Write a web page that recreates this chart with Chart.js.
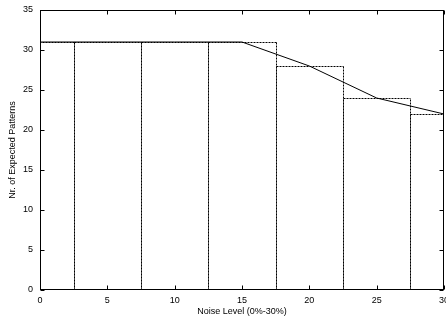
<!DOCTYPE html>
<html>
<head>
<meta charset="utf-8">
<script src="https://cdn.jsdelivr.net/npm/chart.js@4/dist/chart.umd.min.js"></script>
<style>
  html, body { margin: 0; padding: 0; background: #fff; }
  canvas { display: block; }
</style>
</head>
<body>
<canvas id="chart" width="446" height="322"></canvas>
<script>
// noise levels (%) and pattern counts
const noiseLevels = [0, 5, 10, 15, 20, 25, 30];
const boxValues = [31, 31, 31, 31, 28, 24, 22];
const lineValues = [31, 31, 31, 31, 28, 24, 22];
const xTicks = [0, 5, 10, 15, 20, 25, 30];
const yTicks = [0, 5, 10, 15, 20, 25, 30, 35];

const FONT = { family: "'Liberation Sans', Arial, sans-serif", size: 9 };
const INK = '#000';

// gnuplot-style frame: dashed boxes, border and inward mirrored ticks
const frame = {
  id: 'frame',
  afterDatasetsDraw(chart) {
    const { ctx, chartArea: a, scales: { x, y } } = chart;
    const meta = chart.getDatasetMeta(0);

    ctx.save();
    ctx.beginPath();
    ctx.rect(a.left, a.top, a.width, a.height);
    ctx.clip();
    ctx.strokeStyle = '#000';
    ctx.lineWidth = 1;
    ctx.setLineDash([2, 1]);
    meta.data.forEach(bar => {
      const p = bar.getProps(['x', 'y', 'base', 'width'], true);
      const l = Math.round(p.x - p.width / 2) + 0.5;
      const r = Math.round(p.x + p.width / 2) + 0.5;
      const t = Math.round(p.y) + 0.5;
      const b = Math.round(p.base) + 0.5;
      // each side is its own stroke from the base up, so shared edges keep one dash phase
      [[l, b, l, t], [r, b, r, t], [l, t, r, t]].forEach(([x0, y0, x1, y1]) => {
        ctx.beginPath();
        ctx.moveTo(x0, y0);
        ctx.lineTo(x1, y1);
        ctx.stroke();
      });
    });
    ctx.restore();

    ctx.save();
    ctx.strokeStyle = INK;
    ctx.lineWidth = 1;
    const L = Math.round(a.left) + 0.5, R = Math.round(a.right) - 0.5;
    const T = Math.round(a.top) + 0.5, B = Math.round(a.bottom) - 0.5;
    ctx.strokeRect(L, T, R - L, B - T);
    ctx.beginPath();
    xTicks.forEach(v => {
      const px = Math.round(x.getPixelForValue(v)) + 0.5;
      ctx.moveTo(px, B); ctx.lineTo(px, B - 4);
      ctx.moveTo(px, T); ctx.lineTo(px, T + 4);
    });
    yTicks.forEach(v => {
      const py = Math.round(y.getPixelForValue(v)) + 0.5;
      ctx.moveTo(L, py); ctx.lineTo(L + 4, py);
      ctx.moveTo(R, py); ctx.lineTo(R - 4, py);
    });
    ctx.stroke();
    ctx.restore();
  }
};

new Chart(document.getElementById('chart'), {
  type: 'bar',
  data: {
    datasets: [
      {
        type: 'bar',
        data: noiseLevels.map((n, i) => ({ x: n, y: boxValues[i] })),
        backgroundColor: 'rgba(0,0,0,0)',
        borderWidth: 0,
        barPercentage: 1,
        categoryPercentage: 1,
        order: 2
      },
      {
        type: 'line',
        data: noiseLevels.map((n, i) => ({ x: n, y: lineValues[i] })),
        borderColor: INK,
        borderWidth: 1,
        pointRadius: 0,
        tension: 0,
        fill: false,
        order: 1
      }
    ]
  },
  options: {
    responsive: false,
    animation: false,
    events: [],
    layout: { padding: { top: 10, right: 2, left: 0, bottom: 0 } },
    plugins: { legend: { display: false }, tooltip: { enabled: false } },
    scales: {
      x: {
        type: 'linear',
        min: 0,
        max: 30,
        offset: false,
        afterBuildTicks: s => { s.ticks = xTicks.map(v => ({ value: v })); },
        grid: { display: false, drawTicks: false, offset: false },
        border: { display: false },
        ticks: { color: INK, font: FONT, padding: 5, maxRotation: 0, autoSkip: false },
        title: { display: true, text: 'Noise Level (0%-30%)', color: INK, font: FONT, padding: { top: 0, bottom: 5 } },
        afterFit: s => { s.height = 32; s.paddingLeft = 0; s.paddingRight = 0; }
      },
      y: {
        min: 0,
        max: 35,
        afterBuildTicks: s => { s.ticks = yTicks.map(v => ({ value: v })); },
        grid: { display: false, drawTicks: false },
        border: { display: false },
        ticks: { color: INK, font: FONT, padding: 7 },
        title: { display: true, text: 'Nr. of Expected Patterns', color: INK, font: FONT, padding: { top: 7, bottom: 0 } },
        afterFit: s => { s.width = 40; s.paddingTop = 0; s.paddingBottom = 0; }
      }
    }
  },
  plugins: [frame]
});
</script>
</body>
</html>
